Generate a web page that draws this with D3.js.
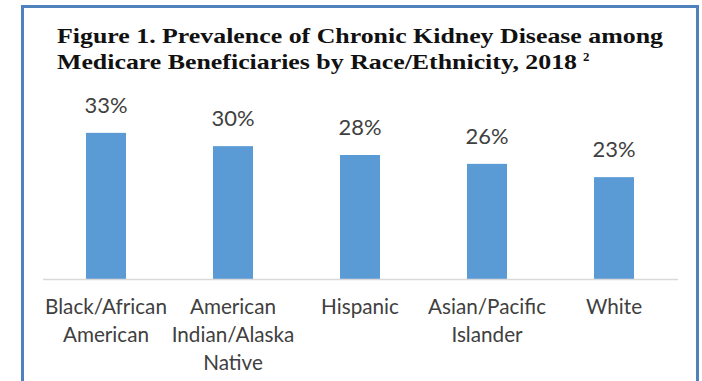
<!DOCTYPE html>
<html>
<head>
<meta charset="utf-8">
<script src="https://cdn.jsdelivr.net/npm/d3@7"></script>
<style>
  html, body { margin: 0; padding: 0; background: #fff; }
  svg { display: block; }
</style>
</head>
<body>
<svg id="chart" width="702" height="381"></svg>
<script>
const categories = ["Black/African American", "American Indian/Alaska Native", "Hispanic", "Asian/Pacific Islander", "White"];
const categoryLines = [["Black/African", "American"], ["American", "Indian/Alaska", "Native"], ["Hispanic"], ["Asian/Pacific", "Islander"], ["White"]];
const values = [33, 30, 28, 26, 23];
const valueLabels = ["33%", "30%", "28%", "26%", "23%"];
const titleLines = ["Figure 1. Prevalence of Chronic Kidney Disease among", "Medicare Beneficiaries by Race/Ethnicity, 2018"];
const titleNote = "2";

const W = 702, H = 381;
const svg = d3.select("#chart");
svg.append("rect").attr("width", W).attr("height", H).attr("fill", "#fff");

// frame
svg.append("rect")
  .attr("x", 22.5).attr("y", 6.5).attr("width", 675).attr("height", 420)
  .attr("fill", "none").attr("stroke", "#4F81BD").attr("stroke-width", 3);

// title
const titleFont = "'Liberation Serif', 'Times New Roman', serif";
const titleSize = 21.5;
const t1 = svg.append("text").attr("x", 57).attr("y", 43)
  .attr("font-family", titleFont).attr("font-weight", "bold").attr("font-size", titleSize)
  .attr("fill", "#111").text(titleLines[0]);
const stretch = 606 / t1.node().getComputedTextLength();
t1.attr("textLength", 606).attr("lengthAdjust", "spacingAndGlyphs");
const t2 = svg.append("text").attr("x", 57).attr("y", 69)
  .attr("font-family", titleFont).attr("font-weight", "bold").attr("font-size", titleSize)
  .attr("fill", "#111").text(titleLines[1]);
const t2len = t2.node().getComputedTextLength() * stretch;
t2.attr("textLength", t2len).attr("lengthAdjust", "spacingAndGlyphs");
svg.append("text").attr("x", 57 + t2len + 6).attr("y", 61)
  .attr("font-family", titleFont).attr("font-weight", "bold").attr("font-size", titleSize * 0.6)
  .attr("fill", "#111").text(titleNote);

// scales
const x = d3.scaleBand().domain(categories).range([42.5, 677.5]).paddingInner(0.685).paddingOuter(0.3425);
const y = d3.scaleLinear().domain([0, 35]).range([279, 124]);

const labelFont = "Lato, 'Open Sans', sans-serif";

// bars
svg.selectAll("rect.bar").data(values).enter().append("rect")
  .attr("class", "bar")
  .attr("x", (d, i) => x(categories[i]))
  .attr("width", x.bandwidth())
  .attr("y", d => y(d))
  .attr("height", d => y(0) - y(d))
  .attr("fill", "#5B9BD5");

// axis
const axis = svg.append("g").attr("transform", `translate(0,${y(0)})`)
  .call(d3.axisBottom(x).tickSize(0).tickFormat(""));
axis.select(".domain").attr("stroke", "#D9D9D9").attr("stroke-width", 1.5);

// value labels
const vl = svg.selectAll("text.val").data(values).enter().append("text")
  .attr("class", "val")
  .attr("x", (d, i) => x(categories[i]) + x.bandwidth() / 2)
  .attr("y", d => y(d) - 20)
  .attr("text-anchor", "middle")
  .attr("font-family", labelFont).attr("font-size", 22)
  .attr("fill", "#404040")
  .text((d, i) => valueLabels[i]);
const valFit = 22 * 43 / vl.nodes()[0].getComputedTextLength();
vl.attr("font-size", valFit);

// category labels
const catGroups = svg.selectAll("text.cat").data(categories).enter().append("text")
  .attr("class", "cat")
  .attr("text-anchor", "middle")
  .attr("font-family", labelFont).attr("font-size", 20)
  .attr("fill", "#404040");
catGroups.each(function(d, i) {
  const cx = x(d) + x.bandwidth() / 2;
  d3.select(this).selectAll("tspan").data(categoryLines[i]).enter().append("tspan")
    .attr("x", cx).attr("y", (l, j) => 314 + j * 28).text(l => l);
});
const firstCat = catGroups.nodes()[0].firstChild;
const catFit = 20 * 122 / firstCat.getComputedTextLength();
catGroups.attr("font-size", catFit);
</script>
</body>
</html>
